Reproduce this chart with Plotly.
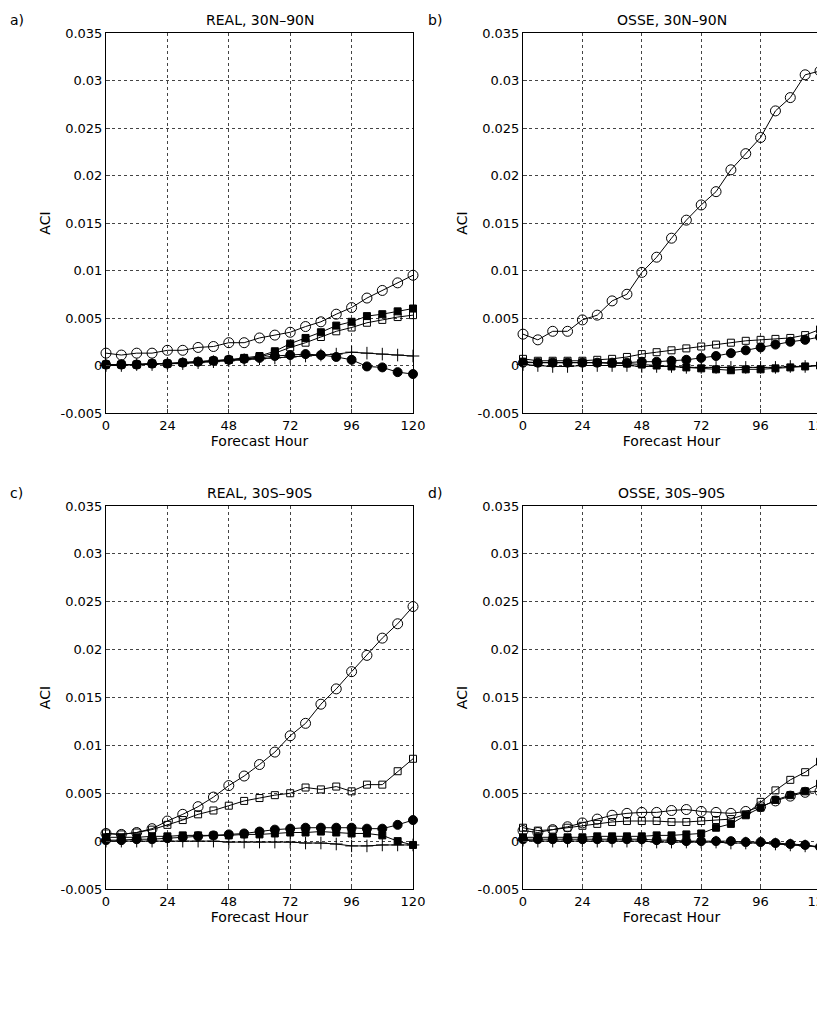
import plotly.graph_objects as go

hours = list(range(0, 121, 6))

# Panel a: REAL 30N-90N
a_oc = [0.0013,0.0011,0.0013,0.0013,0.0016,0.0016,0.0019,0.0020,0.0024,0.0024,0.0029,0.0032,0.0035,0.0041,0.0046,0.0054,0.0061,0.0071,0.0079,0.0087,0.0095]
a_fs = [0.0001,0.0001,0.0001,0.0002,0.0002,0.0003,0.0004,0.0005,0.0006,0.0008,0.0010,0.0015,0.0023,0.0029,0.0035,0.0042,0.0046,0.0052,0.0054,0.0057,0.0060]
a_os = [0.0001,0.0001,0.0001,0.0002,0.0002,0.0003,0.0004,0.0005,0.0006,0.0007,0.0009,0.0013,0.0019,0.0024,0.0030,0.0036,0.0040,0.0045,0.0048,0.0051,0.0053]
a_fc = [0.0001,0.0001,0.0001,0.0002,0.0002,0.0003,0.0004,0.0005,0.0006,0.0007,0.0008,0.0010,0.0011,0.0012,0.0011,0.0009,0.0006,-0.0001,-0.0002,-0.0007,-0.0009]
a_pl = [0.0000,0.0000,0.0001,0.0001,0.0002,0.0002,0.0003,0.0004,0.0005,0.0006,0.0007,0.0008,0.0009,0.0010,0.0011,0.0012,0.0014,0.0013,0.0012,0.0011,0.0010]

# Panel b: OSSE 30N-90N
b_oc = [0.0033,0.0027,0.0036,0.0036,0.0048,0.0053,0.0068,0.0075,0.0098,0.0114,0.0134,0.0153,0.0169,0.0183,0.0206,0.0223,0.0240,0.0268,0.0282,0.0306,0.0310]
b_os = [0.0007,0.0005,0.0005,0.0005,0.0005,0.0006,0.0007,0.0009,0.0012,0.0014,0.0016,0.0018,0.0020,0.0022,0.0024,0.0026,0.0027,0.0028,0.0029,0.0032,0.0038]
b_fc = [0.0003,0.0003,0.0003,0.0003,0.0003,0.0003,0.0003,0.0003,0.0004,0.0004,0.0005,0.0006,0.0008,0.0010,0.0013,0.0016,0.0019,0.0022,0.0025,0.0027,0.0030]
b_fs = [0.0004,0.0003,0.0003,0.0003,0.0003,0.0003,0.0002,0.0002,0.0001,0.0000,-0.0001,-0.0002,-0.0003,-0.0004,-0.0005,-0.0004,-0.0004,-0.0003,-0.0002,-0.0001,0.0000]
b_pl = [0.0001,0.0000,-0.0001,-0.0001,0.0000,0.0000,0.0000,0.0000,-0.0001,-0.0001,-0.0001,-0.0002,-0.0002,-0.0002,-0.0002,-0.0002,-0.0002,-0.0002,-0.0001,-0.0001,0.0000]

# Panel c: REAL 30S-90S
c_oc = [0.0008,0.0007,0.0009,0.0013,0.0021,0.0028,0.0036,0.0046,0.0058,0.0068,0.0080,0.0093,0.0110,0.0123,0.0143,0.0159,0.0177,0.0194,0.0212,0.0227,0.0245]
c_os = [0.0008,0.0007,0.0009,0.0012,0.0017,0.0022,0.0028,0.0032,0.0037,0.0042,0.0045,0.0048,0.0050,0.0056,0.0054,0.0057,0.0052,0.0059,0.0059,0.0073,0.0086]
c_fc = [0.0001,0.0001,0.0002,0.0002,0.0003,0.0004,0.0005,0.0006,0.0007,0.0008,0.0010,0.0012,0.0013,0.0014,0.0014,0.0014,0.0014,0.0013,0.0013,0.0017,0.0022]
c_fs = [0.0004,0.0004,0.0004,0.0005,0.0005,0.0006,0.0006,0.0006,0.0006,0.0007,0.0007,0.0008,0.0009,0.0009,0.0010,0.0009,0.0008,0.0008,0.0006,0.0000,-0.0004]
c_pl = [0.0000,0.0000,0.0000,0.0000,0.0000,0.0000,0.0000,0.0000,-0.0001,-0.0001,-0.0001,-0.0001,-0.0001,-0.0002,-0.0002,-0.0003,-0.0005,-0.0005,-0.0004,-0.0004,-0.0004]

# Panel d: OSSE 30S-90S
d_oc = [0.0011,0.0009,0.0012,0.0015,0.0019,0.0023,0.0027,0.0029,0.0030,0.0030,0.0032,0.0033,0.0031,0.0030,0.0029,0.0031,0.0036,0.0042,0.0047,0.0051,0.0052]
d_os = [0.0014,0.0011,0.0012,0.0014,0.0016,0.0018,0.0020,0.0021,0.0021,0.0021,0.0020,0.0020,0.0021,0.0022,0.0023,0.0028,0.0041,0.0053,0.0064,0.0072,0.0083]
d_fs = [0.0004,0.0004,0.0004,0.0004,0.0004,0.0005,0.0005,0.0005,0.0005,0.0006,0.0006,0.0007,0.0008,0.0014,0.0018,0.0027,0.0035,0.0043,0.0048,0.0052,0.0060]
d_fc = [0.0002,0.0002,0.0002,0.0002,0.0002,0.0002,0.0002,0.0002,0.0002,0.0001,0.0001,0.0000,0.0000,0.0000,0.0000,-0.0001,-0.0001,-0.0002,-0.0003,-0.0004,-0.0006]
d_pl = [0.0001,0.0000,0.0000,0.0000,0.0000,0.0000,0.0000,0.0000,0.0000,-0.0001,-0.0001,-0.0001,-0.0001,-0.0001,-0.0002,-0.0002,-0.0002,-0.0003,-0.0004,-0.0005,-0.0006]

panels = [
    ("REAL, 30N\u201390N", "a)", [a_pl, a_fc, a_os, a_fs, a_oc]),
    ("OSSE, 30N\u201390N", "b)", [b_pl, b_fs, b_fc, b_os, b_oc]),
    ("REAL, 30S\u201390S", "c)", [c_pl, c_fs, c_fc, c_os, c_oc]),
    ("OSSE, 30S\u201390S", "d)", [d_pl, d_fc, d_os, d_fs, d_oc]),
]

xdoms = [[98/825, 405/825], [515/825, 812/825]]
ydoms = [[(1014-405)/1014, (1014-25)/1014], [(1014-881)/1014, (1014-498)/1014]]

order = {
    0: ["cross-thin", "circle", "square-open", "square", "circle-open"],
    1: ["cross-thin", "square", "circle", "square-open", "circle-open"],
    2: ["cross-thin", "square", "circle", "square-open", "circle-open"],
    3: ["cross-thin", "circle", "square-open", "square", "circle-open"],
}

fig = go.Figure()
font = dict(family="DejaVu Sans", size=14, color="black")
tfont = dict(family="DejaVu Sans", size=13, color="black")
ann = []
for i, (title, lab, series) in enumerate(panels):
    r, c = divmod(i, 2)
    n = i + 1
    xa = "x" if n == 1 else f"x{n}"
    ya = "y" if n == 1 else f"y{n}"
    for k, s in enumerate(series):
        sy = order[i][k]
        size = {"circle": 9, "circle-open": 10, "square": 7, "square-open": 7, "cross-thin": 9}[sy]
        fig.add_trace(go.Scatter(x=hours, y=s, xaxis=xa, yaxis=ya, mode="lines+markers",
                                 line=dict(color="black", width=1),
                                 marker=dict(symbol=sy, size=size, color="black",
                                             line=dict(color="black", width=1)),
                                 cliponaxis=False, showlegend=False))
    axx = dict(domain=xdoms[c], range=[0, 120], tickvals=[0, 24, 48, 72, 96, 120],
               showgrid=True, gridcolor="#444", griddash="dot", gridwidth=0.6,
               showline=True, mirror=True, linecolor="black", linewidth=1,
               ticks="inside", ticklen=4, zeroline=False, anchor=ya, automargin=False,
               title=dict(text="Forecast Hour", font=font, standoff=4), tickfont=tfont)
    axy = dict(domain=ydoms[r], range=[-0.005, 0.035],
               tickvals=[-0.005, 0, 0.005, 0.01, 0.015, 0.02, 0.025, 0.03, 0.035],
               ticktext=["-0.005", "0", "0.005", "0.01", "0.015", "0.02", "0.025", "0.03", "0.035"],
               showgrid=True, gridcolor="#444", griddash="dot", gridwidth=0.6,
               showline=True, mirror=True, linecolor="black", linewidth=1,
               ticks="inside", ticklen=4, zeroline=False, anchor=xa, automargin=False,
               title=dict(text="ACI", font=font, standoff=6), tickfont=tfont)
    fig.update_layout(**{("xaxis" if n == 1 else f"xaxis{n}"): axx,
                         ("yaxis" if n == 1 else f"yaxis{n}"): axy})
    ann.append(dict(text=title, x=sum(xdoms[c]) / 2, y=ydoms[r][1], xref="paper", yref="paper",
                    yanchor="bottom", xanchor="center", showarrow=False, font=font, yshift=3))
    ann.append(dict(text=lab, x=0 if c == 0 else 418/825, y=ydoms[r][1], xref="paper", yref="paper",
                    yanchor="bottom", xanchor="left", showarrow=False, font=font, yshift=3))

fig.update_layout(width=825, height=1014, margin=dict(l=0, r=0, t=0, b=0, autoexpand=False),
                  plot_bgcolor="white", paper_bgcolor="white", annotations=ann)
fig.write_html("out.html")
